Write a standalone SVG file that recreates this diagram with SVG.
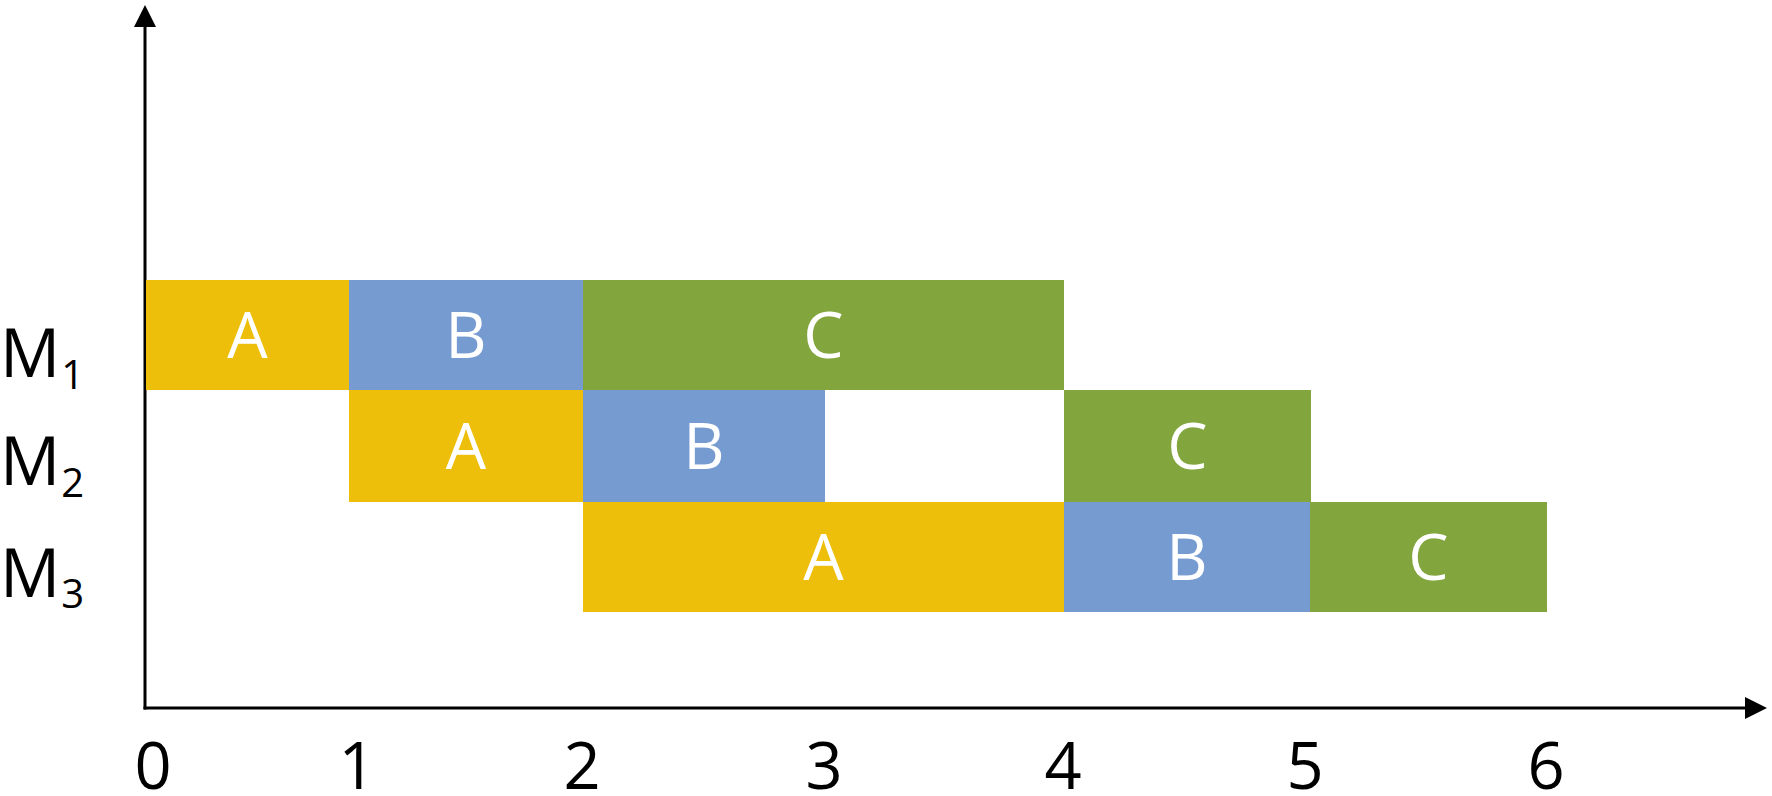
<svg xmlns="http://www.w3.org/2000/svg" width="1772" height="796" viewBox="0 0 1772 796">
<style>
.t{font-family:"Open Sans","Noto Sans","Liberation Sans",sans-serif;font-size:64px;fill:#ffffff;text-anchor:middle}
.lab{font-family:"Open Sans","Noto Sans","Liberation Sans",sans-serif;fill:#000000}
.ax{font-family:"Open Sans","Noto Sans","Liberation Sans",sans-serif;font-size:65px;fill:#000000;text-anchor:middle}
.a{fill:#EDBF0A}
.b{fill:#769BD1}
.c{fill:#82A63D}
.axis{stroke:#000000;stroke-width:3;fill:none}
</style>
<rect width="1772" height="796" fill="#ffffff"/>
<g id="connectors">
<line class="axis" x1="145" y1="24" x2="145" y2="709.5"/>
<polygon points="145,5 134,27 156,27" fill="#000"/>
<line class="axis" x1="143.5" y1="708" x2="1748" y2="708"/>
<polygon points="1767,708 1745,697 1745,719" fill="#000"/>
</g>
<g id="m1-a"><rect class="a" x="146" y="280" width="203" height="110"/><text class="t" x="247.5" y="358">A</text></g>
<g id="m1-b"><rect class="b" x="349" y="280" width="234" height="110"/><text class="t" x="466" y="358">B</text></g>
<g id="m1-c"><rect class="c" x="583" y="280" width="481" height="110"/><text class="t" x="823.5" y="358">C</text></g>
<g id="m2-a"><rect class="a" x="349" y="390" width="234" height="112"/><text class="t" x="466" y="469">A</text></g>
<g id="m2-b"><rect class="b" x="583" y="390" width="242" height="112"/><text class="t" x="704" y="469">B</text></g>
<g id="m2-c"><rect class="c" x="1064" y="390" width="247" height="112"/><text class="t" x="1187.5" y="469">C</text></g>
<g id="m3-a"><rect class="a" x="583" y="502" width="481" height="110"/><text class="t" x="823.5" y="580">A</text></g>
<g id="m3-b"><rect class="b" x="1064" y="502" width="246" height="110"/><text class="t" x="1187" y="580">B</text></g>
<g id="m3-c"><rect class="c" x="1310" y="502" width="237" height="110"/><text class="t" x="1428.5" y="580">C</text></g>
<g id="row-labels">
<text class="lab" x="0" y="377" font-size="67">M<tspan font-size="40" dx="1" y="389">1</tspan></text>
<text class="lab" x="0" y="485" font-size="67">M<tspan font-size="40" dx="1" y="497">2</tspan></text>
<text class="lab" x="0" y="597" font-size="67">M<tspan font-size="40" dx="1" y="608">3</tspan></text>
</g>
<g id="x-labels">
<text class="ax" x="153" y="789">0</text>
<text class="ax" x="357" y="789">1</text>
<text class="ax" x="582" y="789">2</text>
<text class="ax" x="824" y="789">3</text>
<text class="ax" x="1063" y="789">4</text>
<text class="ax" x="1305" y="789">5</text>
<text class="ax" x="1546" y="789">6</text>
</g>
</svg>
